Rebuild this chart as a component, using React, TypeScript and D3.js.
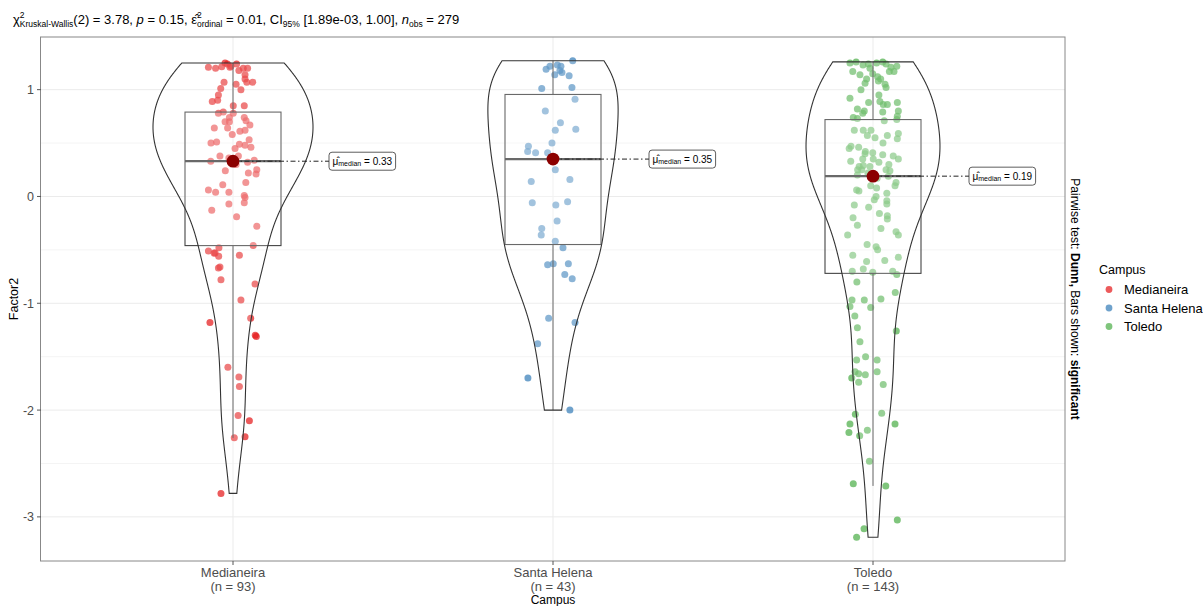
import React, { useEffect, useRef } from 'react';
import * as d3 from 'd3';

const campuses = ['Medianeira', 'Santa Helena', 'Toledo'];
const groupSizes = [93, 43, 143];
const campusColors = ['#E41A1C', '#377EB8', '#4DAF4A'];

// box summary
const medians = [0.33, 0.35, 0.19];
const lowerQuartiles = [-0.46, -0.45, -0.72];
const upperQuartiles = [0.79, 0.955, 0.72];
const whiskerLows = [-2.26, -2.0, -2.71];
const whiskerHighs = [1.25, 1.27, 1.26];

const yTicks = [-3, -2, -1, 0, 1];
const yMinorTicks = [-2.5, -1.5, -0.5, 0.5];

// Factor2 scores, and the jitter of each point (-1..1)
const medianeiraScores = [
    1.21, 1.2, 1.215, 1.25, 1.24, 1.21, 1.24, 1.2, 1.2, 1.14, 1.1, 1.07, 1.07, 1.07, 1.01, 1.05,
    0.95, 0.89, 0.9, 0.85, 0.85, 0.78, 0.79, 0.78, 0.74, 0.74, 0.71, 0.67, 0.7, 0.64, 0.64, 0.61,
    0.62, 0.58, 0.5, 0.51, 0.49, 0.53, 0.48, 0.46, 0.38, 0.38, 0.33, 0.32, 0.34, 0.25, 0.24, 0.22,
    0.21, 0.13, 0.11, 0.06, 0.04, 0.04, 0.01, -0.01, -0.06, -0.07, -0.13, -0.19, -0.28, -0.48,
    -0.51, -0.53, -0.56, -0.55, -0.46, -0.66, -0.67, -0.78, -0.82, -0.97, -1.18, -1.14, -1.3,
    -1.31, -1.6, -1.69, -1.78, -2.05, -2.1, -2.26, -2.25, -2.78,
    1.22, 1.18, 0.33, 0.36, 0.3, 0.7, 0.45, -0.53, 1.0
];
const medianeiraJitter = [
    -0.96, -0.68, -0.44, -0.31, -0.22, -0.12, 0.14, 0.4, 0.57, 0.47, 0.47, 0.54, 0.77, -0.35, -0.48, 0.12,
    -0.57, -0.81, -0.6, 0.01, 0.44, -0.57, -0.38, 0.01, -0.14, 0.44, 0.51, 0.66, -0.14, -0.73, -0.21, 0.27,
    0.47, -0.03, -0.86, -0.64, 0.25, 0.63, 0.47, 0.7, -0.51, 0.21, -0.87, 0.57, 0.83, 0.93, -0.3, 0.6,
    0.9, 0.5, -0.4, -0.96, -0.68, -0.16, 0.44, 0.47, 0.44, -0.16, -0.83, 0.14, 0.93, -0.55,
    -0.96, -0.74, -0.56, 0.25, 0.79, -0.51, -0.57, -0.47, 0.86, 0.31, -0.9, 0.69, 0.87,
    0.91, -0.2, 0.23, 0.25, 0.2, 0.64, 0.05, 0.47, -0.47,
    -0.08, 0.23, 0, -0.16, 0.12, -0.31, 0.08, -0.7, 0.31
];

const santaHelenaScores = [
    1.27, 1.22, 1.19, 1.23, 1.22, 1.18, 1.14, 1.16, 1.13, 1.01, 1.02, 0.91, 0.8, 0.69, 0.63, 0.62,
    0.5, 0.47, 0.42, 0.41, 0.41, 0.25, 0.14, 0.16, -0.06, -0.08, -0.05, -0.23, -0.3, -0.36, -0.42,
    -0.48, -0.64, -0.63, -0.63, -0.73, -0.77, -1.14, -1.18, -1.38, -1.7, -2.0, 0.35
];
const santaHelenaJitter = [
    0.77, -0.12, -0.27, 0.17, 0.31, 0.27, 0.07, 0.35, 0.63, -0.44, 0.74, 0.86, -0.3, 0.29, 0.89, 0.09,
    -0.04, -0.96, -0.99, -0.68, -0.21, 0.09, -0.85, 0.66, -0.81, 0.11, 0.57, 0.16, -0.44, -0.46, 0.09,
    0.39, -0.21, 0.01, 0.6, 0.46, 0.75, -0.17, 0.86, -0.6, -0.98, 0.66, 0
];

const toledoScores = [
    1.25, 1.26, 1.24, 1.25, 1.26, 1.24, 1.22, 1.17, 1.14, 1.2, 1.15, 1.12, 1.17, 1.17, 1.1, 1.08,
    1.06, 1.1, 1.02, 0.92, 0.88, 0.89, 0.86, 0.86, 0.88, 0.82, 0.8, 0.78, 0.79, 0.8, 0.74, 0.73,
    0.71, 0.72, 0.75, 0.62, 0.62, 0.57, 0.57, 0.59, 0.54, 0.45, 0.47, 0.46, 0.42, 0.41, 0.39, 0.38,
    0.35, 0.33, 0.35, 0.35, 0.32, 0.29, 0.28, 0.25, 0.28, 0.25, 0.25, 0.24, 0.19, 0.2, 0.13, 0.1,
    0.1, 0.08, 0.06, 0.03, 0.0, -0.04, -0.03, -0.07, -0.08, -0.1, -0.16, -0.18, -0.21, -0.27, -0.36,
    -0.33, -0.36, -0.47, -0.5, -0.55, -0.6, -0.61, -0.57, -0.68, -0.71, -0.7, -0.7, -0.73, -0.8,
    -0.9, -0.97, -0.97, -0.96, -1.03, -1.04, -1.12, -1.23, -1.26, -1.36, -1.53, -1.5, -1.53, -1.64,
    -1.66, -1.7, -1.67, -1.64, -1.74, -1.76, -2.04, -2.03, -2.13, -2.13, -2.21, -2.19, -2.24, -2.48,
    -2.69, -2.71, -3.03, -3.11, -3.19,
    0.19, 0.22, 0.17, 0.4, 0.5, 0.62, 0.95, 1.0, 1.21, 1.23, 0.55, -0.2, -0.3, -0.45, 0.3, 0.05, 1.05
];
const toledoJitter = [
    -0.9, -0.66, -0.18, 0.14, 0.38, 0.51, 0.93, -0.79, -0.51, -0.12, -0.01, 0.18, 0.64, 0.82, -0.25, 0.21,
    -0.31, 0.3, 0.51, -0.9, -0.17, 0.27, 0.4, 0.56, 0.95, -0.61, -0.34, -0.4, 0.38, 0.99, -0.77, -0.61,
    0.44, 0.93, 0.95, -0.73, -0.38, -0.22, 0.56, 0.99, 0.95, -0.93, -0.86, -0.56, -0.3, -0.01, 0.38, 0.79,
    0.99, -0.87, -0.4, 0.01, 0.23, -0.38, -0.54, -0.6, -0.12, -0.44, 0.51, 0.66, 0.6, -0.61, 0.9, 0.86,
    -0.09, 0.14, -0.64, 0.54, 0.12, 0.54, 0.05, 0.54, -0.73, -0.17, 0.25, 0.56, 0.56, -0.61, -0.99,
    0.9, 0.99, 0.12, 0.18, -0.79, 0.46, -0.25, 0.99, -0.38, -0.01, -0.81, 0.77, 0.93, -0.63,
    0.87, -0.82, -0.34, 0.31, -0.9, -0.09, -0.71, -0.61, 0.91, -0.51, -0.64, -0.29, 0.16, -0.7,
    -0.56, -0.83, -0.3, 0.16, -0.56, 0.4, -0.69, 0.34, -0.9, 0.86, -0.94, -0.22, -0.52, -0.14,
    -0.77, 0.5, 0.95, -0.35, -0.64,
    0, -0.2, 0.16, -0.31, 0.39, -0.08, 0.23, -0.47, 0.7, -0.39, 0.08, -0.78, 0.31, -0.23, 0.62, -0.55, 0.47
];

const scoreLists = [medianeiraScores, santaHelenaScores, toledoScores];
const jitterLists = [medianeiraJitter, santaHelenaJitter, toledoJitter];

const FONT = '"Liberation Sans", Arial, Helvetica, sans-serif';

type Seg = { t: string; size?: number; dy?: number; italic?: boolean; bold?: boolean; stack?: boolean };

// lays out a run of text pieces (sub/superscripts) one after another, returns the width
function richText(g: any, x: number, y: number, segs: Seg[], base: number, fill = '#000') {
    let cursor = x;
    let prevStart = x;
    for (const s of segs) {
        const start = s.stack ? prevStart : cursor;
        const t = g.append('text')
            .attr('x', start)
            .attr('y', y + (s.dy || 0))
            .attr('font-size', s.size || base)
            .attr('font-style', s.italic ? 'italic' : null)
            .attr('font-weight', s.bold ? 'bold' : null)
            .attr('fill', fill)
            .style('white-space', 'pre')
            .text(s.t);
        const w = (t.node() as SVGTextElement).getComputedTextLength();
        cursor = s.stack ? Math.max(cursor, start + w) : start + w;
        prevStart = start;
    }
    return cursor - x;
}

function kde(values: number[]) {
    const sorted = values.slice().sort(d3.ascending);
    const n = values.length;
    const sd = d3.deviation(values) as number;
    const iqr = (d3.quantile(sorted, 0.75) as number) - (d3.quantile(sorted, 0.25) as number);
    const bw = 0.9 * Math.min(sd, iqr / 1.34) * Math.pow(n, -0.2);
    const lo = sorted[0], hi = sorted[n - 1];
    return d3.range(512).map(i => {
        const v = lo + (hi - lo) * i / 511;
        const dens = d3.mean(values, d => Math.exp(-0.5 * ((v - d) / bw) ** 2)) as number / (bw * Math.sqrt(2 * Math.PI));
        return [v, dens];
    });
}

const App = () => {
    const ref = useRef<SVGSVGElement>(null);

    useEffect(() => {
        const svg = d3.select(ref.current);
        svg.selectAll('*').remove();
        svg.attr('font-family', FONT);

        const panel = { left: 41, right: 1065, top: 37, bottom: 561 };

        const allScores = scoreLists.flat();
        const [lo, hi] = d3.extent(allScores) as [number, number];
        const pad = (hi - lo) * 0.05;
        const y = d3.scaleLinear().domain([lo - pad, hi + pad]).range([panel.bottom, panel.top]);
        const x = d3.scalePoint<string>().domain(campuses).range([panel.left, panel.right]).padding(0.6);
        const step = x.step();
        const jitterWidth = 0.08 * step;

        // grid
        const grid = svg.append('g');
        grid.selectAll('line.minor').data(yMinorTicks).enter().append('line')
            .attr('x1', panel.left).attr('x2', panel.right)
            .attr('y1', d => y(d)).attr('y2', d => y(d))
            .attr('stroke', '#F4F4F4').attr('stroke-width', 1);
        grid.selectAll('line.major').data(yTicks).enter().append('line')
            .attr('x1', panel.left).attr('x2', panel.right)
            .attr('y1', d => y(d)).attr('y2', d => y(d))
            .attr('stroke', '#EBEBEB').attr('stroke-width', 1);
        grid.selectAll('line.vert').data(campuses).enter().append('line')
            .attr('x1', d => x(d) as number).attr('x2', d => x(d) as number)
            .attr('y1', panel.top).attr('y2', panel.bottom)
            .attr('stroke', '#EBEBEB').attr('stroke-width', 1);

        // jittered points
        campuses.forEach((c, i) => {
            const cx = x(c) as number;
            svg.append('g').selectAll('circle')
                .data(scoreLists[i])
                .enter()
                .append('circle')
                .attr('cx', (d, k) => cx + jitterLists[i][k] * jitterWidth)
                .attr('cy', d => y(d))
                .attr('r', 3.5)
                .attr('fill', campusColors[i])
                .attr('fill-opacity', 0.72);
        });

        // boxplots
        const boxHalf = 0.15 * step;
        campuses.forEach((c, i) => {
            const cx = x(c) as number;
            const g = svg.append('g');
            g.append('line')
                .attr('x1', cx).attr('x2', cx)
                .attr('y1', y(upperQuartiles[i])).attr('y2', y(whiskerHighs[i]))
                .attr('stroke', '#444').attr('stroke-width', 1);
            g.append('line')
                .attr('x1', cx).attr('x2', cx)
                .attr('y1', y(lowerQuartiles[i])).attr('y2', y(whiskerLows[i]))
                .attr('stroke', '#444').attr('stroke-width', 1);
            g.append('rect')
                .attr('x', cx - boxHalf).attr('width', boxHalf * 2)
                .attr('y', y(upperQuartiles[i]))
                .attr('height', y(lowerQuartiles[i]) - y(upperQuartiles[i]))
                .attr('fill', 'white').attr('fill-opacity', 0.2)
                .attr('stroke', '#444').attr('stroke-width', 1.1);
            g.append('line')
                .attr('x1', cx - boxHalf).attr('x2', cx + boxHalf)
                .attr('y1', y(medians[i])).attr('y2', y(medians[i]))
                .attr('stroke', '#444').attr('stroke-width', 2.2);
        });

        // violins
        const densities = scoreLists.map(kde);
        const maxDens = d3.max(densities.flat(), d => d[1]) as number;
        const violinHalf = 0.25 * step;
        campuses.forEach((c, i) => {
            const cx = x(c) as number;
            const area = d3.area<number[]>()
                .y(d => y(d[0]))
                .x0(d => cx - d[1] / maxDens * violinHalf)
                .x1(d => cx + d[1] / maxDens * violinHalf);
            svg.append('path')
                .attr('d', area(densities[i]) as string)
                .attr('fill', 'white').attr('fill-opacity', 0.2)
                .attr('stroke', '#333').attr('stroke-width', 1.1);
        });

        // median markers and labels
        campuses.forEach((c, i) => {
            const cx = x(c) as number;
            const my = y(medians[i]);
            const labelX = cx + 0.3 * step;
            svg.append('line')
                .attr('x1', cx).attr('x2', labelX)
                .attr('y1', my).attr('y2', my)
                .attr('stroke', '#222').attr('stroke-width', 1)
                .attr('stroke-dasharray', '5,2.5,1.5,2.5');
            svg.append('circle')
                .attr('cx', cx).attr('cy', my).attr('r', 6.4)
                .attr('fill', '#8B0000');
            const lg = svg.append('g');
            const rect = lg.append('rect');
            const w = richText(lg, labelX + 3.5, my + 3.6, [
                { t: 'μ\u0302' },
                { t: 'median', size: 7, dy: 1.6 },
                { t: ' = ' + medians[i].toFixed(2) },
            ], 10);
            rect.attr('x', labelX).attr('y', my - 9)
                .attr('width', w + 7).attr('height', 18)
                .attr('rx', 3)
                .attr('fill', 'white').attr('stroke', '#333').attr('stroke-width', 0.8);
        });

        // panel border
        svg.append('rect')
            .attr('x', panel.left - 0.5).attr('y', panel.top)
            .attr('width', panel.right - panel.left + 0.5).attr('height', panel.bottom - panel.top)
            .attr('fill', 'none').attr('stroke', '#888').attr('stroke-width', 1);

        // y axis
        const yAxis = svg.append('g');
        yTicks.forEach(t => {
            yAxis.append('line')
                .attr('x1', panel.left - 4).attr('x2', panel.left)
                .attr('y1', y(t)).attr('y2', y(t))
                .attr('stroke', '#555');
            yAxis.append('text')
                .attr('x', panel.left - 7).attr('y', y(t) + 4.5)
                .attr('text-anchor', 'end')
                .attr('font-size', 12.5).attr('fill', '#4D4D4D')
                .text(t);
        });
        svg.append('text')
            .attr('transform', `translate(18,${(panel.top + panel.bottom) / 2}) rotate(-90)`)
            .attr('text-anchor', 'middle')
            .attr('font-size', 12.5)
            .text('Factor2');

        // x axis
        campuses.forEach((c, i) => {
            const cx = x(c) as number;
            svg.append('line')
                .attr('x1', cx).attr('x2', cx)
                .attr('y1', panel.bottom).attr('y2', panel.bottom + 4)
                .attr('stroke', '#555');
            svg.append('text')
                .attr('x', cx).attr('y', panel.bottom + 15.5)
                .attr('text-anchor', 'middle')
                .attr('font-size', 13).attr('fill', '#4D4D4D')
                .text(c);
            svg.append('text')
                .attr('x', cx).attr('y', panel.bottom + 30)
                .attr('text-anchor', 'middle')
                .attr('font-size', 13).attr('fill', '#4D4D4D')
                .text(`(n = ${groupSizes[i]})`);
        });
        svg.append('text')
            .attr('x', (panel.left + panel.right) / 2).attr('y', 604)
            .attr('text-anchor', 'middle')
            .attr('font-size', 12)
            .text('Campus');

        // subtitle with test statistics
        richText(svg.append('g'), 13, 24, [
            { t: 'χ' },
            { t: '2', size: 8.5, dy: -6.5 },
            { t: 'Kruskal-Wallis', size: 8.5, dy: 3.2, stack: true },
            { t: '(2) = 3.78, ' },
            { t: 'p', italic: true },
            { t: ' = 0.15, ' },
            { t: 'ε\u0302' },
            { t: '2', size: 8.5, dy: -6.5 },
            { t: 'ordinal', size: 8.5, dy: 3.2, stack: true },
            { t: ' = 0.01, CI' },
            { t: '95%', size: 8.5, dy: 3.2 },
            { t: ' [1.89e-03, 1.00], ' },
            { t: 'n', italic: true },
            { t: 'obs', size: 8.5, dy: 3.2 },
            { t: ' = 279' },
        ], 13);

        // caption on the right, rotated
        const cap = svg.append('g');
        const capSegs: Seg[] = [
            { t: 'Pairwise test: ' },
            { t: 'Dunn,', bold: true },
            { t: ' Bars shown: ' },
            { t: 'significant', bold: true },
        ];
        const capW = richText(cap, 0, 0, capSegs, 12);
        cap.attr('transform', `translate(1071,${(panel.top + panel.bottom) / 2}) rotate(90) translate(${-capW / 2},0)`);

        // legend
        const legend = svg.append('g');
        legend.append('text')
            .attr('x', 1099).attr('y', 274)
            .attr('font-size', 12.5)
            .text('Campus');
        campuses.forEach((c, i) => {
            const ly = 289.5 + i * 18.5;
            legend.append('circle')
                .attr('cx', 1109).attr('cy', ly).attr('r', 3.4)
                .attr('fill', campusColors[i]).attr('fill-opacity', 0.72);
            legend.append('text')
                .attr('x', 1124).attr('y', ly + 4.5)
                .attr('font-size', 13)
                .text(c);
        });
    }, []);

    return (
        <svg ref={ref} width={1203} height={606} style={{ position: 'absolute', left: 0, top: 0 }}></svg>
    );
};

export default App;
